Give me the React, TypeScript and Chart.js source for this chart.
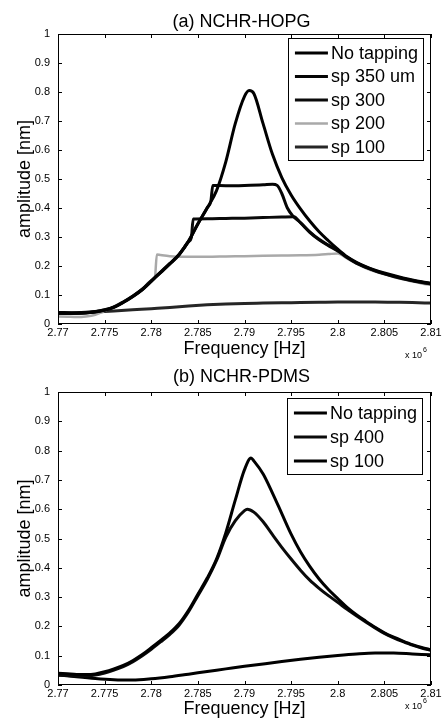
import React, { useEffect, useRef } from 'react';
import { Chart, registerables } from 'chart.js';

Chart.register(...registerables);

const FONT = '"Liberation Sans", Arial, Helvetica, sans-serif';

// ---- axis settings ----
const X_MIN = 2.77;
const X_MAX = 2.81;
const X_STEP = 0.005;
const Y_MIN = 0;
const Y_MAX = 1;
const Y_STEP = 0.1;
const X_LABEL = 'Frequency [Hz]';
const Y_LABEL = 'amplitude [nm]';
const X_EXPONENT = '6';

// ---- (a) NCHR-HOPG ----
const TITLE_A = '(a) NCHR-HOPG';
const A_LABELS = ['No tapping', 'sp 350 um', 'sp 300', 'sp 200', 'sp 100'];

const A_F_NOTAP = [2.770, 2.771, 2.772, 2.773, 2.774, 2.775, 2.776, 2.777, 2.778, 2.779, 2.780, 2.781, 2.782, 2.783, 2.784, 2.785, 2.786, 2.787, 2.788, 2.789, 2.790, 2.7905, 2.791, 2.792, 2.793, 2.794, 2.795, 2.796, 2.797, 2.798, 2.799, 2.800, 2.801, 2.802, 2.803, 2.804, 2.805, 2.806, 2.807, 2.808, 2.809, 2.810];
const A_NOTAP = [0.038, 0.037, 0.037, 0.038, 0.042, 0.048, 0.058, 0.075, 0.095, 0.118, 0.148, 0.178, 0.208, 0.240, 0.285, 0.345, 0.400, 0.460, 0.560, 0.690, 0.785, 0.805, 0.795, 0.690, 0.585, 0.505, 0.445, 0.397, 0.355, 0.318, 0.287, 0.258, 0.232, 0.213, 0.198, 0.186, 0.176, 0.167, 0.159, 0.152, 0.146, 0.141];

const A_F_SP350 = [2.770, 2.772, 2.774, 2.775, 2.776, 2.777, 2.778, 2.779, 2.780, 2.781, 2.782, 2.783, 2.784, 2.785, 2.786, 2.7864, 2.7866, 2.788, 2.790, 2.792, 2.793, 2.7935, 2.794, 2.7946, 2.7952, 2.796, 2.797, 2.798, 2.799, 2.800, 2.801, 2.802, 2.804, 2.806, 2.808, 2.810];
const A_SP350 = [0.040, 0.039, 0.043, 0.049, 0.059, 0.076, 0.096, 0.119, 0.149, 0.179, 0.209, 0.241, 0.286, 0.346, 0.401, 0.425, 0.478, 0.477, 0.478, 0.480, 0.482, 0.478, 0.450, 0.400, 0.372, 0.350, 0.318, 0.292, 0.272, 0.254, 0.230, 0.211, 0.184, 0.165, 0.150, 0.139];

const A_F_SP300 = [2.770, 2.772, 2.774, 2.775, 2.776, 2.777, 2.778, 2.779, 2.780, 2.781, 2.782, 2.783, 2.784, 2.7843, 2.7845, 2.786, 2.788, 2.790, 2.792, 2.794, 2.7953, 2.796, 2.797, 2.798, 2.799, 2.800, 2.801, 2.802, 2.804, 2.806, 2.808, 2.810];
const A_SP300 = [0.037, 0.038, 0.041, 0.047, 0.057, 0.074, 0.094, 0.117, 0.147, 0.177, 0.207, 0.239, 0.284, 0.298, 0.362, 0.363, 0.364, 0.365, 0.367, 0.369, 0.370, 0.349, 0.316, 0.290, 0.270, 0.252, 0.229, 0.210, 0.183, 0.164, 0.149, 0.138];

const A_F_SP200 = [2.770, 2.771, 2.772, 2.773, 2.774, 2.775, 2.776, 2.777, 2.778, 2.779, 2.780, 2.7804, 2.7806, 2.781, 2.782, 2.784, 2.786, 2.788, 2.790, 2.792, 2.794, 2.796, 2.798, 2.799, 2.800, 2.801, 2.802, 2.803, 2.804, 2.805, 2.806, 2.807, 2.808, 2.809, 2.810];
const A_SP200 = [0.026, 0.025, 0.024, 0.026, 0.032, 0.045, 0.060, 0.077, 0.097, 0.120, 0.150, 0.162, 0.240, 0.238, 0.234, 0.232, 0.232, 0.233, 0.234, 0.235, 0.236, 0.237, 0.239, 0.241, 0.243, 0.226, 0.208, 0.193, 0.181, 0.171, 0.162, 0.154, 0.147, 0.140, 0.134];

const A_F_SP100 = [2.770, 2.772, 2.774, 2.776, 2.778, 2.780, 2.782, 2.784, 2.786, 2.788, 2.790, 2.792, 2.794, 2.796, 2.798, 2.800, 2.802, 2.804, 2.806, 2.808, 2.810];
const A_SP100 = [0.036, 0.037, 0.041, 0.045, 0.049, 0.053, 0.057, 0.062, 0.066, 0.069, 0.071, 0.072, 0.073, 0.074, 0.075, 0.076, 0.076, 0.076, 0.075, 0.074, 0.072];

// ---- (b) NCHR-PDMS ----
const TITLE_B = '(b) NCHR-PDMS';
const B_LABELS = ['No tapping', 'sp 400', 'sp 100'];

const B_F_NOTAP = [2.770, 2.771, 2.772, 2.773, 2.774, 2.775, 2.776, 2.777, 2.778, 2.779, 2.780, 2.781, 2.782, 2.783, 2.784, 2.785, 2.786, 2.787, 2.788, 2.789, 2.790, 2.7907, 2.791, 2.792, 2.793, 2.794, 2.795, 2.796, 2.797, 2.798, 2.799, 2.800, 2.801, 2.802, 2.803, 2.804, 2.805, 2.806, 2.807, 2.808, 2.809, 2.810];
const B_NOTAP = [0.040, 0.038, 0.036, 0.036, 0.038, 0.045, 0.055, 0.067, 0.083, 0.103, 0.127, 0.152, 0.178, 0.210, 0.255, 0.310, 0.365, 0.430, 0.520, 0.630, 0.735, 0.775, 0.765, 0.720, 0.655, 0.585, 0.515, 0.455, 0.405, 0.362, 0.326, 0.295, 0.265, 0.240, 0.218, 0.197, 0.178, 0.163, 0.150, 0.138, 0.128, 0.120];

const B_F_SP400 = [2.770, 2.771, 2.772, 2.773, 2.774, 2.775, 2.776, 2.777, 2.778, 2.779, 2.780, 2.781, 2.782, 2.783, 2.784, 2.785, 2.786, 2.787, 2.788, 2.789, 2.790, 2.7903, 2.791, 2.792, 2.793, 2.794, 2.795, 2.796, 2.797, 2.798, 2.799, 2.800, 2.801, 2.802, 2.803, 2.804, 2.805, 2.806, 2.807, 2.808, 2.809, 2.810];
const B_SP400 = [0.033, 0.032, 0.031, 0.031, 0.034, 0.041, 0.051, 0.063, 0.079, 0.099, 0.122, 0.147, 0.173, 0.205, 0.250, 0.305, 0.360, 0.425, 0.505, 0.560, 0.595, 0.600, 0.590, 0.557, 0.513, 0.470, 0.430, 0.392, 0.358, 0.330, 0.305, 0.282, 0.258, 0.236, 0.215, 0.195, 0.176, 0.161, 0.148, 0.136, 0.126, 0.118];

const B_F_SP100 = [2.770, 2.772, 2.774, 2.776, 2.778, 2.780, 2.782, 2.784, 2.786, 2.788, 2.790, 2.792, 2.794, 2.796, 2.798, 2.800, 2.802, 2.804, 2.806, 2.808, 2.810];
const B_SP100 = [0.035, 0.028, 0.022, 0.018, 0.017, 0.021, 0.028, 0.037, 0.046, 0.055, 0.064, 0.072, 0.080, 0.088, 0.095, 0.101, 0.106, 0.109, 0.109, 0.106, 0.103];

const pts = (f: number[], a: number[]) => f.map((x, i) => ({ x, y: a[i] }));

type Layout = {
  height: number;
  top: number;
  bottom: number;
  titleY: number;
  xTitlePadBottom: number;
  expY: number;
  legendTop: number;
  legendRightInset: number;
  rowH: number;
};

function makeDecor(title: string, lay: Layout) {
  return {
    id: 'decor',
    afterDatasetsDraw(chart: any) {
      const { ctx, chartArea: ca, scales } = chart;
      const xs = scales.x;
      const ys = scales.y;
      ctx.save();
      ctx.strokeStyle = '#000';
      ctx.lineWidth = 1;
      ctx.strokeRect(ca.left + 0.5, ca.top + 0.5, ca.right - ca.left - 1, ca.bottom - ca.top - 1);
      const TL = 4;
      ctx.beginPath();
      xs.ticks.forEach((_t: any, i: number) => {
        const px = Math.round(xs.getPixelForTick(i)) + 0.5;
        ctx.moveTo(px, ca.bottom);
        ctx.lineTo(px, ca.bottom - TL);
        ctx.moveTo(px, ca.top);
        ctx.lineTo(px, ca.top + TL);
      });
      ys.ticks.forEach((_t: any, i: number) => {
        const py = Math.round(ys.getPixelForTick(i)) + 0.5;
        ctx.moveTo(ca.left, py);
        ctx.lineTo(ca.left + TL, py);
        ctx.moveTo(ca.right, py);
        ctx.lineTo(ca.right - TL, py);
      });
      ctx.stroke();

      const items = chart.data.datasets.map((d: any) => ({
        label: d.label,
        color: d.borderColor,
        width: d.borderWidth,
      }));
      ctx.font = `18px ${FONT}`;
      const textW = Math.max(...items.map((it: any) => ctx.measureText(it.label).width));
      const padL = 7;
      const lineLen = 33;
      const gap = 3;
      const padR = 5;
      const w = padL + lineLen + gap + textW + padR;
      const right = ca.right - lay.legendRightInset;
      const left = right - w;
      const top = ca.top + lay.legendTop;
      const h = 15 + (items.length - 1) * lay.rowH + 13;
      ctx.fillStyle = '#fff';
      ctx.fillRect(left, top, w, h);
      ctx.strokeStyle = '#000';
      ctx.lineWidth = 1;
      ctx.strokeRect(Math.round(left) + 0.5, Math.round(top) + 0.5, Math.round(w), Math.round(h));
      items.forEach((it: any, i: number) => {
        const y = top + 15 + i * lay.rowH;
        ctx.beginPath();
        ctx.strokeStyle = it.color;
        ctx.lineWidth = it.width;
        ctx.moveTo(left + padL, y);
        ctx.lineTo(left + padL + lineLen, y);
        ctx.stroke();
        ctx.fillStyle = '#000';
        ctx.textAlign = 'left';
        ctx.textBaseline = 'middle';
        ctx.fillText(it.label, left + padL + lineLen + gap, y + 1);
      });
      ctx.restore();
    },
    afterDraw(chart: any) {
      const { ctx, chartArea: ca } = chart;
      ctx.save();
      ctx.fillStyle = '#000';
      ctx.font = `18px ${FONT}`;
      ctx.textAlign = 'center';
      ctx.textBaseline = 'middle';
      ctx.fillText(title, (ca.left + ca.right) / 2 - 3, lay.titleY);
      ctx.textAlign = 'left';
      ctx.font = `9px ${FONT}`;
      const ex = 405;
      ctx.fillText('x 10', ex, lay.expY);
      const w = ctx.measureText('x 10').width;
      ctx.font = `7px ${FONT}`;
      ctx.fillText(X_EXPONENT, ex + w + 1, lay.expY - 6);
      ctx.restore();
    },
  };
}

function makeConfig(datasets: any[], title: string, lay: Layout) {
  return {
    type: 'line',
    data: { datasets },
    options: {
      animation: false,
      responsive: false,
      events: [],
      layout: { padding: { top: lay.top, right: 13, left: 0, bottom: 0 } },
      plugins: { legend: { display: false }, title: { display: false }, tooltip: { enabled: false } },
      elements: { point: { radius: 0 }, line: { cubicInterpolationMode: 'monotone', borderCapStyle: 'round', borderJoinStyle: 'round' } },
      scales: {
        x: {
          type: 'linear',
          min: X_MIN,
          max: X_MAX,
          afterFit: (s: any) => { s.height = lay.height - lay.bottom; },
          grid: { display: false, drawTicks: false },
          border: { display: false },
          ticks: {
            stepSize: X_STEP,
            padding: 2,
            color: '#000',
            font: { family: FONT, size: 11 },
            maxRotation: 0,
            autoSkip: false,
            callback: (v: any) => String(parseFloat(Number(v).toFixed(3))),
          },
          title: {
            display: true,
            text: X_LABEL,
            color: '#000',
            font: { family: FONT, size: 18 },
            padding: { top: 0, bottom: lay.xTitlePadBottom },
          },
        },
        y: {
          type: 'linear',
          min: Y_MIN,
          max: Y_MAX,
          afterFit: (s: any) => { s.width = 58; },
          grid: { display: false, drawTicks: false },
          border: { display: false },
          ticks: {
            stepSize: Y_STEP,
            padding: 8,
            color: '#000',
            font: { family: FONT, size: 11 },
            callback: (v: any) => String(parseFloat(Number(v).toFixed(1))),
          },
          title: {
            display: true,
            text: Y_LABEL,
            color: '#000',
            font: { family: FONT, size: 18 },
            padding: { top: 14, bottom: 0 },
          },
        },
      },
    },
    plugins: [makeDecor(title, lay)],
  };
}

const ds = (label: string, f: number[], a: number[], color: string, width: number) => ({
  label,
  data: pts(f, a),
  borderColor: color,
  backgroundColor: color,
  borderWidth: width,
  fill: false,
  pointRadius: 0,
});

const LAYOUT_A: Layout = { height: 362, top: 34, bottom: 324, titleY: 22, xTitlePadBottom: 2, expY: 356, legendTop: 4, legendRightInset: 8, rowH: 23.5 };
const LAYOUT_B: Layout = { height: 362, top: 30, bottom: 323, titleY: 15, xTitlePadBottom: 4, expY: 345, legendTop: 6, legendRightInset: 9, rowH: 24 };

function ChartCanvas({ which }: { which: 'a' | 'b' }) {
  const ref = useRef<HTMLCanvasElement | null>(null);
  useEffect(() => {
    if (!ref.current) return;
    let cfg: any;
    if (which === 'a') {
      cfg = makeConfig(
        [
          ds(A_LABELS[0], A_F_NOTAP, A_NOTAP, '#000000', 3),
          ds(A_LABELS[1], A_F_SP350, A_SP350, '#050505', 3),
          ds(A_LABELS[2], A_F_SP300, A_SP300, '#0a0a0a', 3),
          ds(A_LABELS[3], A_F_SP200, A_SP200, '#a9a9a9', 2.5),
          ds(A_LABELS[4], A_F_SP100, A_SP100, '#262626', 3),
        ],
        TITLE_A,
        LAYOUT_A,
      );
    } else {
      cfg = makeConfig(
        [
          ds(B_LABELS[0], B_F_NOTAP, B_NOTAP, '#000000', 3),
          ds(B_LABELS[1], B_F_SP400, B_SP400, '#0a0a0a', 3),
          ds(B_LABELS[2], B_F_SP100, B_SP100, '#000000', 3),
        ],
        TITLE_B,
        LAYOUT_B,
      );
    }
    const chart = new Chart(ref.current, cfg);
    return () => chart.destroy();
  }, [which]);
  return <canvas ref={ref} width={444} height={362} style={{ display: 'block', width: 444, height: 362 }} />;
}

export default function App() {
  return (
    <div style={{ position: 'absolute', left: 0, top: 0, width: 444, height: 724, background: '#fff' }}>
      <ChartCanvas which="a" />
      <ChartCanvas which="b" />
    </div>
  );
}
